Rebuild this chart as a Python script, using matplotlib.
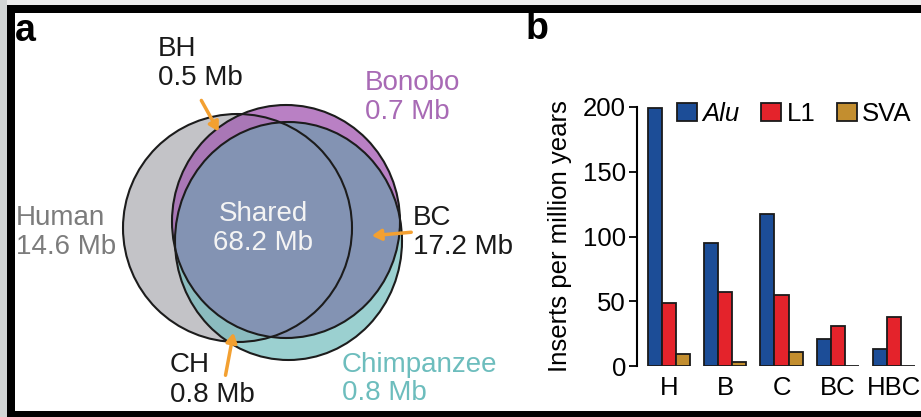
import numpy as np
import matplotlib
matplotlib.use("Agg")
import matplotlib.pyplot as plt
from matplotlib.patches import Ellipse, Rectangle, Patch

plt.rcParams['font.family'] = ['Liberation Sans', 'DejaVu Sans']

# panel a: sizes in Mb
human_only = 14.6
bonobo_only = 0.7
chimp_only = 0.8
bh_size = 0.5
bc_size = 17.2
ch_size = 0.8
shared_size = 68.2

# panel b: inserts per million years
groups = ['H', 'B', 'C', 'BC', 'HBC']
alu = [199, 95, 117, 21, 13]
l1 = [49, 57, 55, 31, 38]
sva = [9, 3, 11, 0, 0]

W, H = 921, 417
fig = plt.figure(figsize=(W / 100, H / 100), dpi=100)
bg = fig.add_axes([0, 0, 1, 1])
bg.set_xlim(0, W)
bg.set_ylim(H, 0)
bg.axis('off')

# frame round the picture
bg.add_patch(Rectangle((0, 0), W, 5, color='#ececec', lw=0))
bg.add_patch(Rectangle((0, 0), 7, H, color='#d2d5d5', lw=0))
bg.add_patch(Rectangle((7, 5), W, 8, color='black', lw=0))
bg.add_patch(Rectangle((7, 5), 8, H, color='black', lw=0))
bg.add_patch(Rectangle((7, 411), W, 6, color='black', lw=0))

# venn shapes: centre, width, height in pixels
hum = ((237.5, 228), 229, 228)
bon = ((286, 221.5), 228, 233)
chi = ((288.5, 241), 227, 238)

def ell(s, **kw):
    return Ellipse(s[0], s[1], s[2], transform=bg.transData, **kw)

bg.add_patch(ell(hum, facecolor='#c3c3c7', lw=0, zorder=1))
bg.add_patch(ell(bon, facecolor='#b980c4', lw=0, zorder=2))
bg.add_patch(ell(chi, facecolor='#9bd0d0', lw=0, zorder=3))
p = bg.add_patch(ell(bon, facecolor='#a977b6', lw=0, zorder=4))
p.set_clip_path(ell(hum))
p = bg.add_patch(ell(chi, facecolor='#8bbcbf', lw=0, zorder=5))
p.set_clip_path(ell(hum))
p = bg.add_patch(ell(chi, facecolor='#8393b3', lw=0, zorder=6))
p.set_clip_path(ell(bon))
for s in (hum, bon, chi):
    bg.add_patch(ell(s, fill=False, edgecolor='#1c1c1c', lw=1.5, zorder=7))

fs = 20
txt = dict(fontsize=fs, va='center', ha='left', linespacing=1.15)
bg.text(158, 63, 'BH\n%.1f Mb' % bh_size, color='#1a1a1a', **txt)
bg.text(365, 97, 'Bonobo\n%.1f Mb' % bonobo_only, color='#a86ab5', **txt)
bg.text(16, 232, 'Human\n%.1f Mb' % human_only, color='#7c7c7c', **txt)
bg.text(263, 228, 'Shared\n%.1f Mb' % shared_size, color='#f4f4f4', zorder=8,
        fontsize=fs, va='center', ha='center', linespacing=1.15)
bg.text(413, 232, 'BC\n%.1f Mb' % bc_size, color='#1a1a1a', **txt)
bg.text(170, 380, 'CH\n%.1f Mb' % ch_size, color='#1a1a1a', **txt)
bg.text(342, 379, 'Chimpanzee\n%.1f Mb' % chimp_only, color='#6dbdbd', **txt)

orange = '#f3a031'
arr = dict(arrowstyle='-|>,head_length=0.55,head_width=0.32', color=orange, lw=2.5)
bg.annotate('', xy=(220, 134), xytext=(200, 98), arrowprops=arr, zorder=9)
bg.annotate('', xy=(369, 236), xytext=(414, 232), arrowprops=arr, zorder=9)
bg.annotate('', xy=(234, 330), xytext=(225, 378), arrowprops=arr, zorder=9)

bg.text(15, 31, 'a', fontsize=27, fontweight='bold', va='center', ha='left')
bg.text(526, 29, 'b', fontsize=27, fontweight='bold', va='center', ha='left')

# panel b
ax = fig.add_axes([637 / W, (H - 366) / H, (W - 637) / W, 259 / H])
x = np.arange(len(groups))
w = 0.25
ek = dict(edgecolor='#1a1a1a', linewidth=1.3)
ax.bar(x - w, alu, w, color='#1c4d97', **ek)
ax.bar(x, l1, w, color='#e4232b', **ek)
ax.bar(x + w, sva, w, color='#c38e2f', **ek)
ax.set_xlim(-0.569, (W - 669) / 56.25)
ax.set_ylim(0, 200)
ax.set_facecolor('none')
for s in ('top', 'right', 'bottom'):
    ax.spines[s].set_visible(False)
ax.spines['left'].set_linewidth(1.5)
ax.set_yticks([0, 50, 100, 150, 200])
ax.set_xticks(x)
ax.set_xticklabels(groups)
ax.tick_params(axis='y', direction='out', length=6, width=1.3, labelsize=18.5, pad=2)
ax.tick_params(axis='x', length=0, labelsize=18.5, pad=7)
ax.set_ylabel('Inserts per million years', fontsize=18.5, labelpad=8)

handles = [Patch(facecolor='#1c4d97', **ek), Patch(facecolor='#e4232b', **ek),
           Patch(facecolor='#c38e2f', **ek)]
leg = ax.legend(handles, ['Alu', 'L1', 'SVA'], ncol=3, frameon=False, fontsize=18.5,
                loc='upper left', bbox_to_anchor=(0.141, 1.02), borderaxespad=0,
                borderpad=0, handlelength=0.78, handleheight=0.72,
                handletextpad=0.2, columnspacing=0.85)
leg.get_texts()[0].set_fontstyle('italic')

fig.savefig('out.png', dpi=100)
